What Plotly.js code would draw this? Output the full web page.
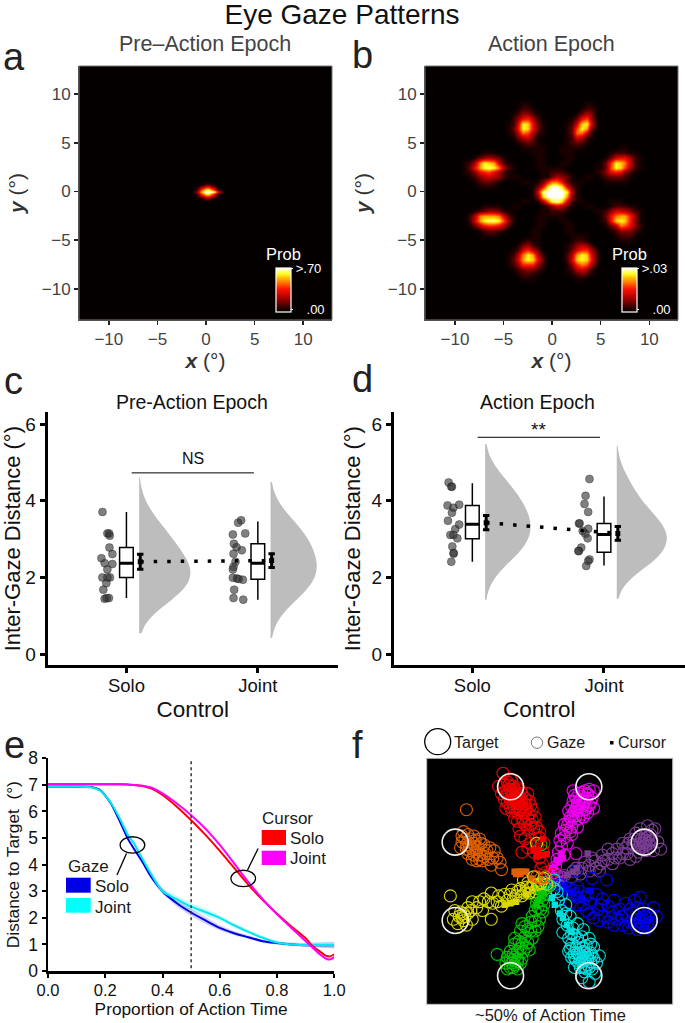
<!DOCTYPE html>
<html><head><meta charset="utf-8">
<script src="https://cdn.plot.ly/plotly-3.0.1.min.js"></script>
<style>html,body{margin:0;padding:0;background:#fff}</style></head>
<body><div id="chart" style="width:685px;height:1023px"></div>
<script>
// ---------- panel a: density (hex digit 0-f = 0..max), 0.25 deg grid
const spotA = {x0:-1.5, y0:0.75, rows:[
"00001233210000",
"00124577542100",
"01258bddb85210",
"0247befffeb742",
"01258bddb85210",
"00124577542100",
"00001233210000"]};
// ---------- panel b: density patches, 0.5 deg grid
const blobTL = {x0:-5, y0:9, rows:["0000110000","0001221000","0012442100","0024785200","0126dc7310","0137dc7310","0125a95210","0013563100","0001232100","0000111110","0000001110"]};
const blobTR = {x0:0.5, y0:9, rows:["0000001100","0000012210","0000135410","0001379510","00126cd720","00139db410","0013aa6200","0012652100","0012321000","0111110000","0110000000"]};
const blobRU = {x0:4, y0:4.5, rows:["000000110000","000012221100","000136775210","00138dca6210","01139dc95210","012478742100","001233321000","000111110000"]};
const blobLU = {x0:-10, y0:4, rows:["00000011100000","00001345431000","00125adcb62100","00137bdeda5210","00124789752100","00012456542100","00001233210000","00000111100000"]};
const blobLL = {x0:-10, y0:-1.5, rows:["00000011110000","00001234431000","00025abbba6210","00026bdeed9410","00013578875200","00000123321000","00000011100000"]};
const blobRL = {x0:4, y0:-1, rows:["000011100000","000012221100","000246654210","00137abb8510","00127cdc8410","000135a97420","000012444210","000001222100","000000111000"]};
const blobBR = {x0:0.5, y0:-4.5, rows:["0000111000","0001221000","0012454200","0013688520","0025bdc730","0026cdc830","00148a9520","0012564200","0001232100","0000110000"]};
const blobBL = {x0:-5, y0:-5, rows:["0000121000","0001342100","0012685300","0125adb520","0136bdc730","0124888420","0012343210","0001221100","0000111000"]};
const blobC  = {x0:-3, y0:2.5, rows:["00000111100000","00000122210000","00000135431000","000137aa731000","00137dffd73100","0016effffd5100","0014cffffb4100","000149dec62000","00001246531000","00000122210000","00000111100000"]};
const rays   = {x0:-5, y0:5, rows:[
"000000110000001100000","000000110000001100000","000000110000011000000","000000011000011000000","000000011000110000000","000000011001100000000",
"110000001100110000011","001100001100100001100","000011001101100110000","000000110111101100000","000000011111110000000",
"000000110111101100000","000011001101100110000","001100001100100001100","110000001100110000011",
"000000011001100000000","000000011000110000000","000000011000011000000","000000110000011000000","000000110000001100000","000000110000001100000"]};
const blobsB = [blobTL,blobTR,blobRU,blobLU,blobLL,blobRL,blobBR,blobBL,blobC,rays];

const hotScale = [[0,'#050000'],[0.07,'#1c0000'],[0.3,'#a00000'],[0.52,'#ff1000'],[0.73,'#ffa000'],[0.87,'#ffff20'],[1,'#ffffff']];

function grid(patches, step){
  let xs=[],ys=[];
  patches.forEach(p=>{ xs.push(p.x0,p.x0+step*(p.rows[0].length-1)); ys.push(p.y0,p.y0-step*(p.rows.length-1)); });
  const x0=Math.min(...xs)-step, x1=Math.max(...xs)+step, y0=Math.min(...ys)-step, y1=Math.max(...ys)+step;
  const nx=Math.round((x1-x0)/step)+1, ny=Math.round((y1-y0)/step)+1;
  const X=Array.from({length:nx},(_,i)=>x0+i*step), Y=Array.from({length:ny},(_,j)=>y0+j*step);
  const Z=Y.map(()=>X.map(()=>0));
  patches.forEach(p=>p.rows.forEach((r,j)=>{
    const yy=Math.round((p.y0-j*step-y0)/step);
    [...r].forEach((c,i)=>{const xx=Math.round((p.x0+i*step-x0)/step); if(Z[yy]&&xx<nx) Z[yy][xx]=Math.max(Z[yy][xx],parseInt(c,16));});
  }));
  return {X,Y,Z};
}

// ---------- panels c, d
const cats=['Solo','Joint'];
const cSoloX=[0.818,0.855,0.868,0.873,0.871,0.893,0.81,0.835,0.893,0.855,0.817,0.875,0.855,0.847,0.824,0.867,0.834,0.85];
const cSoloY=[3.71,3.15,3.15,3.09,2.78,2.61,2.5,2.37,2.35,2.21,2.0,2.0,2.0,1.85,1.68,1.46,1.44,1.46];
const cJointX=[1.873,1.85,1.904,1.81,1.818,1.838,1.878,1.815,1.83,1.815,1.81,1.81,1.841,1.886,1.82,1.815,1.889,1.854];
const cJointY=[3.49,3.43,3.15,3.12,2.88,2.79,2.71,2.62,2.41,2.28,2.21,1.99,1.97,1.94,1.68,1.46,1.42,1.96];
const dSoloX=[0.82,0.84,0.845,0.812,0.9,0.856,0.845,0.815,0.9,0.87,0.833,0.856,0.886,0.848,0.858,0.858,0.84];
const dSoloY=[4.48,4.37,4.37,3.88,3.9,3.82,3.69,3.48,3.38,3.26,3.11,3.11,3.02,2.81,2.64,2.62,2.41];
const dJointX=[1.89,1.86,1.852,1.88,1.81,1.815,1.88,1.838,1.858,1.876,1.827,1.81,1.805,1.89,1.88,1.865];
const dJointY=[4.57,4.13,3.92,3.71,3.41,3.41,3.27,3.21,3.14,3.02,2.78,2.69,2.69,2.47,2.43,2.3];
const boxCS={q1:2.0,med:2.37,q3:2.78,lo:1.46,hi:3.71}, boxCJ={q1:1.95,med:2.37,q3:2.88,lo:1.42,hi:3.46};
const boxDS={q1:3.01,med:3.39,q3:3.88,lo:2.41,hi:4.46}, boxDJ={q1:2.66,med:3.12,q3:3.41,lo:2.31,hi:4.11};
const meansC=[2.41,2.44], errsC=[0.195,0.18], meansD=[3.43,3.15], errsD=[0.185,0.18];

// ---------- panel e
const eX=[0,0.05,0.1,0.15,0.18,0.2,0.22,0.25,0.28,0.3,0.33,0.36,0.4,0.45,0.5,0.55,0.6,0.65,0.7,0.75,0.8,0.85,0.9,0.92,0.95,0.97,0.985,1];
const gazeSolo =[6.93,6.93,6.93,6.92,6.82,6.6,6.3,5.65,4.95,4.6,4.1,3.55,3.0,2.55,2.2,1.9,1.62,1.42,1.27,1.12,1.05,1.0,0.97,0.97,0.97,0.97,0.97,0.97];
const gazeJoint=[6.93,6.93,6.93,6.91,6.8,6.6,6.32,5.75,5.1,4.8,4.22,3.65,3.0,2.7,2.42,2.22,2.0,1.72,1.47,1.25,1.07,1.0,0.98,0.98,0.98,0.98,0.98,0.98];
const gazeBand =[0.05,0.05,0.05,0.05,0.05,0.06,0.06,0.06,0.06,0.06,0.07,0.08,0.1,0.13,0.14,0.13,0.1,0.08,0.07,0.06,0.06,0.06,0.08,0.09,0.1,0.1,0.11,0.12];
const curSolo  =[7.02,7.02,7.02,7.02,7.02,7.02,7.02,7.02,7.01,7.0,6.96,6.87,6.62,6.18,5.67,5.12,4.52,3.88,3.24,2.67,2.15,1.67,1.23,0.98,0.73,0.58,0.55,0.63];
const curJoint =[7.02,7.02,7.02,7.02,7.02,7.02,7.02,7.02,7.01,7.0,6.97,6.9,6.68,6.3,5.86,5.35,4.74,4.05,3.34,2.7,2.13,1.62,1.12,0.92,0.62,0.47,0.43,0.52];

// ---------- panel f (degrees)
const targetsX=[-2.68,2.68,6.47,6.47,2.68,-2.68,-6.47,-6.47], targetsY=[6.47,6.47,2.68,-2.68,-6.47,-6.47,-2.68,2.68];
const armColors=['#f00000','#ee00ee','#7a3d94','#0000ee','#00e0e0','#00c800','#d8d800','#e06000'];
const gazeRed=[[-3.2,7.4],[-2.7,7.0],[-3.5,6.5],[-2.8,6.6],[-2.5,6.5],[-2.2,6.4],[-3.0,6.2],[-2.6,6.2],[-2.3,6.1],[-1.9,6.0],[-2.9,5.9],[-2.5,5.9],[-2.1,5.8],[-1.5,6.0],[-2.7,5.6],[-2.3,5.6],[-1.9,5.5],[-2.5,5.3],[-2.1,5.3],[-1.7,5.3],[-2.4,5.0],[-2.0,5.0],[-1.6,5.0],[-1.2,4.9],[-2.2,4.7],[-1.8,4.7],[-1.4,4.6],[-2.4,4.3],[-1.9,4.3],[-1.5,4.3],[-1.0,4.4],[-1.7,3.9],[-1.3,3.9],[-0.9,3.7],[-2.1,3.6],[-1.5,3.5],[-1.0,3.2],[-0.7,3.4],[-1.7,2.9],[-1.3,2.6],[-0.8,2.5],[-1.9,2.0],[-1.1,2.0],[-0.7,1.6],[-0.4,2.6],[-0.5,1.2],[-2.6,6.9],[-2.9,6.8],[-2.4,5.7],[-2.2,5.1],
 [-3.3,6.0],[-3.1,5.6],[-2.9,5.4],[-2.7,5.1],[-3.0,5.0],[-2.6,4.8],[-1.4,5.5],[-1.3,5.2],[-1.7,5.7],[-2.0,5.7],[-2.2,5.9],[-2.8,6.1],[-2.4,6.3],[-3.1,6.6],[-2.0,6.2],[-1.8,4.1],[-2.2,4.1],[-1.2,4.2],[-2.0,3.1],[-1.1,3.6],[-0.7,3.0],[-0.5,2.1],[-1.5,2.3],[-2.1,5.5],[-2.3,5.4],[-1.9,5.1],[-2.1,4.9],[-1.7,4.9],[-2.6,5.8],[-2.4,5.5],[-2.5,6.0],[-2.7,6.3]];
const gazeMag=[[2.7,6.3],[3.0,6.2],[2.4,6.2],[2.0,6.0],[1.6,6.2],[2.6,5.9],[2.2,5.8],[1.8,5.7],[2.9,5.7],[2.4,5.5],[2.0,5.4],[1.6,5.5],[2.7,5.2],[2.3,5.2],[1.9,5.1],[1.5,5.1],[3.0,5.0],[2.1,4.9],[1.7,4.8],[1.3,4.8],[2.6,4.7],[2.2,4.6],[1.8,4.5],[1.4,4.4],[1.7,4.1],[1.3,4.1],[1.0,3.9],[1.9,3.7],[1.5,3.7],[1.1,3.5],[0.8,3.3],[1.5,3.2],[1.0,3.0],[0.7,2.8],[1.2,2.6],[0.8,2.4],[0.6,2.0],[1.8,1.9],[1.0,1.8],[0.5,1.5],[0.4,1.0],[2.2,5.3],[1.9,4.8],
 [2.5,5.7],[2.3,5.5],[2.1,5.6],[1.9,5.4],[2.5,5.0],[2.0,5.1],[1.8,5.0],[2.4,4.9],[1.6,4.6],[1.5,4.2],[2.0,4.3],[1.2,3.8],[2.6,6.0],[2.2,6.1],[1.7,5.9],[2.8,5.4],[2.3,4.4],[1.4,3.4]];
const gazePur=[[7.2,3.6],[6.7,3.8],[6.2,3.6],[6.9,3.2],[6.5,3.1],[6.1,3.0],[7.4,2.7],[7.0,2.8],[6.6,2.7],[6.2,2.6],[5.8,2.9],[6.9,2.4],[6.5,2.4],[6.1,2.3],[5.7,2.5],[7.6,2.2],[7.1,2.1],[6.6,2.1],[6.1,2.0],[5.4,2.6],[5.2,2.3],[5.0,1.9],[4.6,2.2],[4.8,1.6],[4.3,1.9],[4.0,1.5],[4.3,1.2],[3.6,1.8],[3.5,1.2],[3.1,1.4],[3.2,0.9],[2.7,1.1],[2.7,0.7],[2.2,0.9],[2.1,0.5],[1.6,0.7],[1.5,0.3],[1.0,0.4],[5.9,1.7],[5.5,1.5],[6.4,2.6],[6.6,2.5],[6.5,2.8],
 [6.3,2.9],[6.7,3.0],[6.8,2.6],[6.3,2.3],[6.0,2.5],[5.9,3.3],[7.0,3.5],[5.5,2.9],[5.0,2.6],[5.3,1.9],[4.5,1.6],[4.0,2.2],[3.7,1.4],[3.4,0.7],[2.9,1.6],[2.4,1.3],[1.8,0.9]];
const gazeBlu=[[6.9,-2.8],[6.5,-2.7],[6.1,-2.6],[6.7,-3.2],[6.3,-3.1],[5.9,-3.0],[7.3,-2.4],[6.8,-2.2],[7.1,-1.8],[6.4,-1.9],[6.0,-1.8],[6.2,-1.1],[5.8,-1.3],[5.7,-2.2],[5.5,-2.8],[5.2,-1.5],[5.2,-2.3],[5.0,-3.0],[4.8,-1.9],[4.6,-2.6],[4.4,-1.3],[4.3,-2.1],[4.0,-2.8],[4.0,-1.7],[3.7,-2.4],[3.6,-1.2],[3.3,-1.9],[3.0,-2.5],[3.2,-0.9],[2.8,-1.5],[2.5,-2.0],[2.4,-1.1],[2.1,-0.7],[3.9,0.1],[2.9,0.2],[1.9,-1.6],[1.7,-0.9],[1.3,-0.5],[1.8,0.7],[1.9,-0.4],[1.0,-0.3],[6.6,-2.5],[6.4,-2.9],[6.7,-2.9],
 [6.3,-2.5],[6.5,-2.4],[6.6,-3.0],[6.2,-2.8],[6.0,-3.3],[5.4,-3.2],[4.4,-3.0],[5.5,-1.9],[4.9,-2.4],[4.2,-2.5],[3.5,-1.6],[3.4,-2.7],[2.7,-2.2],[2.6,-0.9],[2.3,-1.6],[1.9,-1.1],[1.6,-0.6],[1.4,-1.5]];
const gazeCya=[[2.7,-6.9],[2.4,-6.2],[2.9,-6.0],[2.1,-5.9],[1.7,-5.9],[2.6,-5.7],[3.2,-5.6],[2.2,-5.5],[1.8,-5.4],[3.0,-5.3],[2.5,-5.2],[2.0,-5.0],[1.5,-5.2],[3.4,-5.1],[2.8,-4.9],[2.3,-4.8],[1.8,-4.6],[1.3,-4.8],[3.0,-4.5],[2.5,-4.4],[2.0,-4.2],[1.5,-4.3],[0.9,-3.5],[2.7,-3.9],[2.2,-3.8],[1.7,-3.7],[1.3,-3.9],[1.6,-3.2],[1.2,-3.0],[1.9,-2.9],[0.9,-2.6],[1.4,-2.4],[0.8,-2.0],[1.1,-1.6],[0.6,-1.3],[0.8,-0.9],[3.1,-6.3],[2.2,-6.6],[1.9,-4.9],[2.4,-5.4],[2.6,-5.0],[2.1,-5.3],
 [2.3,-5.9],[2.5,-6.0],[2.7,-5.9],[2.0,-5.6],[1.7,-5.2],[2.8,-5.5],[2.9,-5.1],[2.4,-4.9],[2.2,-5.1],[1.7,-4.9],[1.4,-4.6],[2.8,-4.3],[2.3,-4.5],[1.9,-3.9],[1.5,-3.6],[2.3,-3.3],[1.1,-2.2],[2.6,-5.3]];
const gazeGre=[[-2.9,-6.0],[-2.5,-5.9],[-2.2,-6.0],[-3.0,-5.6],[-2.6,-5.6],[-2.2,-5.5],[-3.6,-5.0],[-2.9,-5.2],[-2.4,-5.2],[-1.9,-5.3],[-2.7,-4.8],[-2.2,-4.8],[-1.8,-4.8],[-1.4,-4.7],[-2.4,-4.3],[-1.9,-4.3],[-1.5,-4.2],[-2.4,-3.9],[-1.7,-3.8],[-1.2,-3.9],[-2.0,-3.4],[-1.5,-3.3],[-1.0,-3.4],[-1.9,-2.9],[-1.3,-2.8],[-0.8,-3.1],[-1.2,-2.4],[-0.7,-2.6],[-1.0,-2.0],[-0.5,-2.1],[-0.9,-1.5],[-0.4,-1.6],[-0.7,-1.1],[-0.3,-0.9],[-2.5,-5.4],[-0.6,2.5],
 [-2.7,-5.9],[-2.4,-5.7],[-2.7,-5.3],[-2.2,-5.3],[-2.0,-5.6],[-2.5,-5.0],[-2.0,-4.6],[-1.6,-4.5],[-2.1,-4.1],[-1.3,-3.4],[-1.7,-3.1],[-1.0,-2.7],[-0.6,-1.9],[-0.9,-1.1],[-0.5,-1.3],[-0.8,-1.8]];
const gazeYel=[[-6.6,-2.6],[-6.2,-2.4],[-5.9,-2.7],[-5.6,-2.2],[-6.5,-2.0],[-6.8,-1.0],[-5.3,-2.6],[-5.6,-1.8],[-5.3,-1.4],[-5.0,-1.8],[-4.6,-2.0],[-4.2,-1.4],[-4.0,-2.6],[-4.0,-0.8],[-3.9,-1.5],[-3.5,-1.0],[-3.3,-1.7],[-3.1,-0.9],[-2.9,-1.3],[-2.6,-0.6],[-2.5,-1.2],[-2.2,-0.7],[-1.9,-1.0],[-1.6,-0.4],[-1.4,-0.8],[-1.1,-0.2],[-0.9,-0.5],[-5.9,-2.2],[-6.3,-2.9],[-5.7,-3.0],[-4.5,-1.2],[-1.8,0.1],[-0.6,-0.2],[-0.9,2.6],
 [-6.0,-2.5],[-5.8,-2.4],[-6.1,-2.1],[-5.4,-2.0],[-4.8,-1.4],[-3.6,-1.4],[-2.7,-0.9],[-2.3,-1.0],[-2.0,-0.5],[-1.7,-0.8],[-1.3,-0.4],[-1.5,-0.1],[-1.0,-0.7]];
const gazeOra=[[-6.0,3.1],[-5.6,3.2],[-5.2,3.1],[-6.0,2.7],[-5.6,2.7],[-5.2,2.6],[-4.8,2.9],[-6.1,2.3],[-5.7,2.2],[-5.3,2.2],[-4.9,2.3],[-4.5,2.5],[-5.6,1.9],[-5.2,1.8],[-4.8,1.8],[-4.4,1.9],[-4.1,2.3],[-5.0,1.4],[-4.6,1.4],[-4.2,1.5],[-3.8,2.1],[-3.6,1.6],[-3.4,1.3],[-4.0,1.1],[-3.3,0.8],[-5.7,4.9],[-5.5,2.4],[-5.0,2.0],[-4.5,1.7],
 [-5.8,2.9],[-5.4,2.9],[-5.5,2.1],[-5.1,2.4],[-5.7,2.5],[-5.3,1.5],[-4.8,1.5],[-4.3,2.1],[-3.9,1.6],[-5.9,3.4],[-4.7,2.6],[-5.1,2.8]];
const gazeArms=[gazeRed,gazeMag,gazePur,gazeBlu,gazeCya,gazeGre,gazeYel,gazeOra];
const gazeCentre=[
 [[-0.3,0.6],[-0.6,0.9],[0.1,0.5]],
 [[0.3,0.6],[0.5,0.4],[0.2,0.2]],
 [[0.6,0.2],[0.8,0.3],[0.4,0.0]],
 [[0.7,-0.2],[0.9,-0.5],[0.4,-0.3]],
 [[0.3,-0.5],[0.5,-0.7],[0.0,-0.3],[-0.3,-0.1],[0.3,0.1]],
 [[-0.3,-0.5],[-0.5,-0.7],[-0.1,-0.3],[-0.6,-0.4]],
 [[-0.6,-0.1],[-0.8,-0.2],[-0.4,0.2],[-0.2,-0.2],[-1.1,0.3]],
 [[-0.6,0.2],[-0.9,0.3],[-0.3,0.3]]];
const cursorArms=[
 [[-0.45,2.9],[-1.1,2.1],[-0.8,2.1],[-0.45,1.8],[-0.2,1.85],[-0.9,1.7]],
 [[0.77,1.9],[0.47,1.46],[0.9,1.6],[0.35,1.0],[0.15,0.9],[0.6,1.3]],
 [[2.6,1.9],[1.85,0.9],[1.6,0.65],[1.2,0.45],[0.7,0.2]],
 [[2.75,-0.64],[1.6,-0.8],[1.15,-0.5],[0.9,-0.25],[2.2,-1.2]],
 [[1.5,-3.45],[0.9,-2.5],[0.7,-2.2],[0.35,-1.6],[0.15,-1.15],[1.2,-3.0]],
 [[-0.8,-1.3],[-0.6,-1.0],[-0.4,-0.8],[-0.9,-1.6]],
 [[-3.07,-1.6],[-2.3,-1.4],[-1.6,-0.9],[-1.0,-0.5],[-2.7,-1.5]],
 [[-2.4,0.66],[-2.2,0.66],[-2.0,0.66],[-1.8,0.66],[-1.6,0.66],[-1.25,0.2],[-2.0,0.5],[-2.3,0.5]]];

// ---------- page helpers (px on the 685x1023 page)
const W=685,H=1023;
const px=v=>v/W, py=v=>1-v/H;
const FONT='"Liberation Sans", Arial, sans-serif';
const annotations=[], shapes=[], data=[];
function note(x,y,text,size,o={}){annotations.push(Object.assign({xref:'paper',yref:'paper',x:px(x),y:py(y),text,showarrow:false,xanchor:'center',yanchor:'middle',borderpad:0,font:{size,family:FONT,color:o.color||'#1a1a1a'}},o.extra||{}));}
function boxShape(x0,y0,x1,y1,fill,line,layer){shapes.push({type:'rect',xref:'paper',yref:'paper',x0:px(x0),x1:px(x1),y0:py(y0),y1:py(y1),fillcolor:fill,line:line||{width:0},layer:layer||'above'});}
function ringShape(cx,cy,r,color,w){shapes.push({type:'circle',xref:'paper',yref:'paper',x0:px(cx-r),x1:px(cx+r),y0:py(cy-r),y1:py(cy+r),line:{color,width:w},layer:'above'});}

const layout={width:W,height:H,margin:{l:0,r:0,t:0,b:0,autoexpand:false},paper_bgcolor:'#fff',plot_bgcolor:'rgba(0,0,0,0)',showlegend:false,
 font:{family:FONT,color:'#1a1a1a'},violinmode:'overlay',boxmode:'overlay',annotations,shapes,
 title:{text:'Eye Gaze Patterns',x:342/W,xanchor:'center',y:py(14),yanchor:'middle',font:{size:28,family:FONT,color:'#111'}}};

// heat panels
function heat(idx,L,R,T,B,xr,yr,patches,step,topLabel,cbX){
  const {X,Y,Z}=grid(patches,step), s=idx===1?'':idx;
  boxShape(L,T,R,B,'#050000',{color:'#777',width:1},'below');
  layout['xaxis'+s]={domain:[px(L),px(R)],range:xr,anchor:'y'+s,tickvals:[-10,-5,0,5,10],ticks:'outside',ticklen:4,tickwidth:1.5,tickcolor:'#222',showline:true,linecolor:'#555',linewidth:1,zeroline:false,showgrid:false,tickfont:{size:17,color:'#444'},
    title:{text:'<b><i>x</i></b> (°)',standoff:2,font:{size:21,color:'#333'}}};
  layout['yaxis'+s]={domain:[py(B),py(T)],range:yr,anchor:'x'+s,tickvals:[-10,-5,0,5,10],ticks:'outside',ticklen:4,tickwidth:1.5,tickcolor:'#222',showline:true,linecolor:'#555',linewidth:1,zeroline:false,showgrid:false,tickfont:{size:17,color:'#444'},
    title:{text:'<b><i>y</i></b> (°)',standoff:11,font:{size:21,color:'#333'}}};
  data.push({type:'heatmap',x:X,y:Y,z:Z,xaxis:'x'+s,yaxis:'y'+s,zmin:0,zmax:15,zsmooth:'best',colorscale:hotScale,hoverinfo:'skip',
    colorbar:{x:px(cbX),xanchor:'left',xpad:0,ypad:0,y:py(312),yanchor:'bottom',lenmode:'pixels',len:44,thicknessmode:'pixels',thickness:15,outlinecolor:'#fff',outlinewidth:1.2,borderwidth:0,bgcolor:'rgba(0,0,0,0)',tickvals:[1,15],ticktext:['\u00A0\u00A0\u00A0.00',topLabel],ticks:'outside',ticklen:2,tickcolor:'#fff',tickfont:{size:13,color:'#fff',family:FONT}}});
  note(cbX+8,254,'Prob',16.5,{color:'#fff'});
}
heat(1,79,332,66,320,[-13.07,12.96],[-13.2,12.9],[spotA],0.25,'>.70',275.5);
heat(2,425,678,66,320,[-13.08,12.95],[-13.2,12.9],blobsB,0.5,'>.03',621.5);
note(205,44,'Pre–Action Epoch',21.5,{color:'#444'});
note(551,44,'Action Epoch',21.5,{color:'#444'});

// rain-cloud panels
function rain(idx,L,R,xr,ptsS,ptsJ,bS,bJ,means,errs,offs,viol,lineY,lineX,mark,yStand){
  const s=idx, T=412,B=665.3, ax='x'+s, ay='y'+s;
  layout['xaxis'+s]={domain:[px(L),px(R)],range:xr,anchor:ay,tickvals:[1,2],ticktext:cats,ticks:'outside',ticklen:5,tickwidth:3,tickcolor:'#000',showline:true,linecolor:'#000',linewidth:3,zeroline:false,showgrid:false,tickfont:{size:18.5,color:'#111'},ticklabelstandoff:-4,
    title:{text:'Control',standoff:7,font:{size:22.5,color:'#111'}}};
  layout['yaxis'+s]={domain:[py(B),py(T)],range:[-0.295,6.32],anchor:ax,tickvals:[0,2,4,6],ticks:'outside',ticklen:5,tickwidth:3,tickcolor:'#000',showline:true,linecolor:'#000',linewidth:3,zeroline:false,showgrid:false,tickfont:{size:19,color:'#111'},
    title:{text:'Inter-Gaze Distance (°)',standoff:yStand,font:{size:22,color:'#111'}}};
  [[ptsS,viol[0]],[ptsJ,viol[1]]].forEach(([p,v],i)=>{
    data.push({type:'violin',y:p[1],x0:1+i+offs[0],xaxis:ax,yaxis:ay,side:'positive',bandwidth:v.bw,width:v.w,spanmode:'soft',scalemode:'width',points:false,box:{visible:false},meanline:{visible:false},fillcolor:'#bdbdbd',line:{color:'#bdbdbd',width:0},hoverinfo:'skip'});
  });
  [bS,bJ].forEach((b,i)=>{
    data.push({type:'box',x:[1+i],q1:[b.q1],median:[b.med],q3:[b.q3],lowerfence:[b.lo],upperfence:[b.hi],xaxis:ax,yaxis:ay,width:0.104,whiskerwidth:0,boxpoints:false,fillcolor:'#fff',line:{color:'#000',width:1.5},hoverinfo:'skip'});
    data.push({type:'scatter',mode:'lines',x:[1+i-0.052,1+i+0.052],y:[b.med,b.med],xaxis:ax,yaxis:ay,line:{color:'#000',width:3},hoverinfo:'skip'});
  });
  [ptsS,ptsJ].forEach(p=>data.push({type:'scatter',mode:'markers',x:p[0],y:p[1],xaxis:ax,yaxis:ay,marker:{size:8,color:'rgba(50,50,50,0.62)',line:{width:0.5,color:'rgba(30,30,30,.7)'}},hoverinfo:'skip'}));
  const mx=[1+offs[1],2+offs[1]];
  data.push({type:'scatter',mode:'lines',x:mx,y:means,xaxis:ax,yaxis:ay,line:{color:'#000',width:3.5,dash:'3.5px,10px'},hoverinfo:'skip'});
  data.push({type:'scatter',mode:'markers',x:mx,y:means,xaxis:ax,yaxis:ay,marker:{symbol:'square',size:5,color:'#000'},error_y:{type:'data',array:errs,thickness:3,width:3.2,color:'#000'},hoverinfo:'skip'});
  shapes.push({type:'line',xref:ax,yref:ay,x0:lineX[0],x1:lineX[1],y0:lineY,y1:lineY,line:{color:'#000',width:1}});
  annotations.push({xref:ax,yref:ay,x:(lineX[0]+lineX[1])/2,y:lineY,yshift:mark==='NS'?14:8,text:mark,showarrow:false,font:{size:mark==='NS'?16:19,family:FONT,color:'#111'}});
}
rain(3,47.7,338,[0.401,2.61],[cSoloX,cSoloY],[cJointX,cJointY],boxCS,boxCJ,meansC,errsC,[0.097,0.105],[{bw:0.45,w:0.78},{bw:0.5,w:0.7}],4.73,[1.04,1.97],'NS',12);
rain(4,394,684.7,[0.405,2.613],[dSoloX,dSoloY],[dJointX,dJointY],boxDS,boxDJ,meansD,errsD,[0.097,0.105],[{bw:0.5,w:0.69},{bw:0.43,w:0.76}],5.66,[1.04,1.97],'**',5);
note(192,401.7,'Pre-Action Epoch',19.5,{color:'#111'});
note(537.7,401.7,'Action Epoch',19.5,{color:'#111'});

// panel e
layout.xaxis5={domain:[px(48),px(334.3)],range:[0,1],anchor:'y5',tickvals:[0,0.2,0.4,0.6,0.8,1],tickformat:'.1f',ticks:'outside',ticklen:4,tickwidth:2,tickcolor:'#000',showline:true,linecolor:'#000',linewidth:2.5,zeroline:false,showgrid:false,tickfont:{size:16.5,color:'#111'},ticklabelstandoff:-1,
  title:{text:'Proportion of Action Time',standoff:4,font:{size:17.3,color:'#111'}}};
layout.yaxis5={domain:[py(971),py(758.3)],range:[0,8],anchor:'x5',tickvals:[0,1,2,3,4,5,6,7,8],ticks:'outside',ticklen:4,tickwidth:2,tickcolor:'#000',showline:true,linecolor:'#000',linewidth:2.5,zeroline:false,showgrid:false,tickfont:{size:17.5,color:'#111'},
  title:{text:'Distance to Target  (°)',standoff:4,font:{size:17.3,color:'#111'}}};
function band(y,c){data.push({type:'scatter',mode:'lines',x:eX.concat(eX.slice().reverse()),y:y.map((v,i)=>v+gazeBand[i]).concat(y.map((v,i)=>v-gazeBand[i]).reverse()),fill:'toself',fillcolor:c,line:{width:0},xaxis:'x5',yaxis:'y5',hoverinfo:'skip'});}
band(gazeSolo,'rgba(0,0,230,0.18)');band(gazeJoint,'rgba(0,230,240,0.22)');
[[gazeSolo,'#0000e6'],[gazeJoint,'#00e8f0'],[curSolo,'#ff0000'],[curJoint,'#ff00ff']].forEach(([y,c])=>
  data.push({type:'scatter',mode:'lines',x:eX,y,xaxis:'x5',yaxis:'y5',line:{color:c,width:2,shape:'spline',smoothing:0.8},hoverinfo:'skip'}));
shapes.push({type:'line',xref:'x5',yref:'y5',x0:0.5,x1:0.5,y0:0.1,y1:8,line:{color:'#333',width:1.5,dash:'3px,3px'}});
[[0.295,4.74],[0.682,3.48]].forEach(([cx,cy])=>shapes.push({type:'circle',xref:'x5',yref:'y5',x0:cx-0.043,x1:cx+0.043,y0:cy-0.31,y1:cy+0.31,line:{color:'#000',width:1.3}}));
[[0.274,4.42,0.241,3.61],[0.734,4.61,0.697,3.8]].forEach(([a,b,c,d])=>shapes.push({type:'line',xref:'x5',yref:'y5',x0:a,y0:b,x1:c,y1:d,line:{color:'#000',width:1.3}}));
const L={xanchor:'left'};
note(67,866,'Gaze',17,{extra:L}); note(94,886,'Solo',17,{extra:L}); note(94,907,'Joint',17,{extra:L});
note(261,818,'Cursor',17,{extra:L}); note(289,838,'Solo',17,{extra:L}); note(289,858,'Joint',17,{extra:L});
boxShape(66,877.7,90.7,892.7,'#0000e6'); boxShape(66,898,90.7,912.7,'#00ffff');
boxShape(261.7,830,286,845,'#ff0000'); boxShape(261.7,850.7,286,865,'#ff00ff');

// panel f
boxShape(426.7,758.3,672.7,1004.3,'#000',{color:'#bbb',width:1},'below');
layout.xaxis6={domain:[px(426.7),px(672.7)],range:[-8.42,8.42],anchor:'y6',visible:false};
layout.yaxis6={domain:[py(1004.3),py(758.3)],range:[-8.42,8.42],anchor:'x6',visible:false};
const ringTrace=(pts,c)=>data.push({type:'scatter',mode:'markers',x:pts.map(p=>p[0]),y:pts.map(p=>p[1]),xaxis:'x6',yaxis:'y6',marker:{symbol:'circle-open',size:12,color:c,line:{width:1.1,color:c}},hoverinfo:'skip'});
gazeArms.forEach((arm,i)=>ringTrace(arm,armColors[i]));
cursorArms.forEach((arm,i)=>data.push({type:'scatter',mode:'markers',x:arm.map(p=>p[0]),y:arm.map(p=>p[1]),xaxis:'x6',yaxis:'y6',marker:{symbol:'square',size:6.5,color:armColors[i]},hoverinfo:'skip'}));
gazeCentre.forEach((arm,i)=>ringTrace(arm,armColors[i]));
data.push({type:'scatter',mode:'markers',x:targetsX,y:targetsY,xaxis:'x6',yaxis:'y6',marker:{symbol:'circle-open',size:26,color:'#eee',line:{width:1.6,color:'#eee'}},hoverinfo:'skip'});
ringShape(437.7,741.7,13,'#000',1.3); ringShape(537,742.7,5.7,'#555',0.8);
boxShape(610,741,613.5,744.5,'#000');
note(453,742,'Target',16,{extra:L}); note(546,742,'Gaze',16,{extra:L}); note(616.5,742,'Cursor',16,{extra:L});
note(550,1015,'~50% of Action Time',16.5);

// panel letters
[['a',2,57],['b',351,55],['c',3,381],['d',351,379],['e',3,745],['f',351,745]].forEach(([t,x,y])=>note(x,y,t,38,{extra:L,color:'#222'}));

Plotly.newPlot('chart',data,layout,{staticPlot:true,displayModeBar:false});
</script></body></html>
